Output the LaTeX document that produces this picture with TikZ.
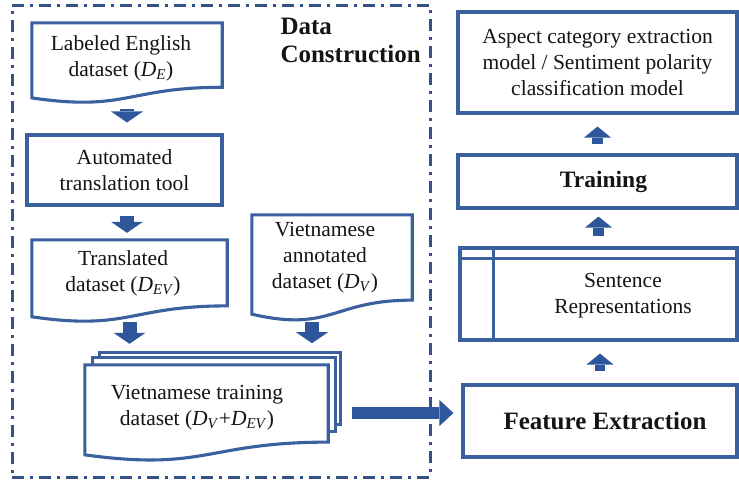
\documentclass[tikz,border=0pt]{standalone}
\usepackage{fontspec}
\setmainfont{Liberation Serif}
\usetikzlibrary{arrows.meta,calc}
\definecolor{bd}{RGB}{58,96,158}
\definecolor{ar}{RGB}{45,86,155}
\definecolor{fr}{RGB}{52,82,135}
\definecolor{tx}{RGB}{20,20,20}
\newcommand\Dsub[1]{\textit{D}\textsubscript{\textit{#1}}}
\newcommand\docoutline[1]{%
  \draw[bdline] let \p1=(#1.north west), \p2=(#1.south east) in
    (\p1) -- (\x2,\y1) -- (\x2,{\y1+0.802*(\y2-\y1)})
    .. controls ({(\x1+\x2)/2},{\y1+0.802*(\y2-\y1)}) and ({(\x1+\x2)/2},{\y1+1.1075*(\y2-\y1)}) ..
    (\x1,{\y1+0.934*(\y2-\y1)}) -- cycle;}
\begin{document}
\begin{tikzpicture}[x=1pt,y=-1pt,
  bdline/.style={draw=bd, line width=3.1pt, line join=miter},
  txt/.style={text=tx, align=center, font=\fontsize{21.5}{26}\selectfont},
  rbox/.style={bdline, txt, inner sep=0pt},
  docnode/.style={draw=none, inner sep=0pt},
  framebox/.style={draw=fr, line width=3pt, dash pattern=on 12pt off 6pt on 3pt off 6pt, inner sep=0pt},
  dnarr/.style={draw=ar, line width=14pt, -{Triangle[width=32pt,length=11pt,line width=0pt]}},
  uparr/.style={draw=ar, line width=10.5pt, -{Triangle[width=27pt,length=11pt,line width=0pt]}},
  bigarr/.style={draw=ar, line width=12pt, -{Triangle[width=26pt,length=14pt,line width=0pt]}},
  boldtxt/.style={text=tx, align=center, font=\bfseries\fontsize{25}{28}\selectfont}
]
\useasboundingbox (0,0) rectangle (739,480);

% frame
\node[framebox, minimum width=418pt, minimum height=472pt] (dc) at (221,241) {};
\node[boldtxt, align=left, anchor=west] (dct) at (277,40) {Data\\Construction};

% left column
\node[docnode, minimum width=190pt, minimum height=80pt] (b1) at (127,63) {};
\docoutline{b1}
\node[txt] (b1t) at (121,58.5) {Labeled English\\dataset (\Dsub{E})};

\node[rbox, minimum width=195pt, minimum height=70pt] (b2) at (124.5,170) {Automated\\translation tool};

\node[docnode, minimum width=195pt, minimum height=82pt] (b3) at (129.5,281) {};
\docoutline{b3}
\node[txt] (b3t) at (123,273.5) {Translated\\dataset (\Dsub{EV})};

\node[docnode, minimum width=160pt, minimum height=106pt] (bV) at (332,268) {};
\docoutline{bV}
\node[txt] (bVt) at (325,258) {Vietnamese\\annotated\\dataset (\Dsub{V})};

% stacked documents
\node[docnode, minimum width=243pt, minimum height=96pt] (s) at (206.5,413) {};
\draw[bdline] ($(s.north west)+(15,-7)$) -- ++(0,-5) -- ($(s.north east)+(12,-12)$) -- ($(s.north east)+(12,60)$) -- ++(-5,0);
\draw[bdline] ($(s.north west)+(8,0)$) -- ++(0,-7) -- ($(s.north east)+(7,-7)$) -- ($(s.north east)+(7,67)$) -- ++(-7,0);
\draw[bdline, fill=white] let \p1=(s.north west), \p2=(s.south east) in
    (\p1) -- (\x2,\y1) -- (\x2,{\y1+0.802*(\y2-\y1)})
    .. controls ({(\x1+\x2)/2},{\y1+0.802*(\y2-\y1)}) and ({(\x1+\x2)/2},{\y1+1.1075*(\y2-\y1)}) ..
    (\x1,{\y1+0.934*(\y2-\y1)}) -- cycle;
\node[txt] (st) at (197,407.5) {Vietnamese training\\dataset (\Dsub{V}+\Dsub{EV})};

% right column
\node[rbox, minimum width=279pt, minimum height=101pt] (A) at (597.5,62.5) {Aspect category extraction\\model / Sentiment polarity\\classification model};
\node[rbox, minimum width=279pt, minimum height=53pt, font=\bfseries\fontsize{23.5}{27}\selectfont] (T) at (597.5,181.5) {\hspace*{12pt}Training};
\node[rbox, minimum width=277pt, minimum height=92pt] (S) at (598.5,294) {};
\draw[bdline] ($(S.north west)+(0,12)$) -- ($(S.north east)+(0,12)$);
\draw[bdline] ($(S.north west)+(35,0)$) -- ($(S.south west)+(35,0)$);
\node[txt] (St) at (623,296) {Sentence\\Representations};
\node[rbox, minimum width=274pt, minimum height=72pt, font=\bfseries\fontsize{25}{28}\selectfont] (F) at (600,421) {\hspace*{10pt}Feature Extraction};

% connectors
\draw[dnarr, shorten <=6pt, shorten >=11pt] (b1.south) -- (b1.south |- b2.north);
\draw[dnarr, shorten <=9pt, shorten >=7pt] (b1.south |- b2.south) -- (b1.south |- b3.north);
\draw[dnarr, shorten <=0pt, shorten >=21pt] (b3.south) -- (b3.south |- s.north);
\draw[dnarr, shorten <=1pt] ($(bV.south)+(-20,0)$) -- ++(0,22);
\draw[bigarr, shorten <=24pt, shorten >=8pt] (s.east) -- (s.east -| F.west);
\draw[uparr, shorten <=12pt, shorten >=12pt] (F.north) -- (F.north |- S.south);
\draw[uparr, shorten <=10pt, shorten >=7pt] (S.north) -- (S.north |- T.south);
\draw[uparr, shorten <=9pt, shorten >=12pt] (T.north) -- (T.north |- A.south);
\end{tikzpicture}
\end{document}
